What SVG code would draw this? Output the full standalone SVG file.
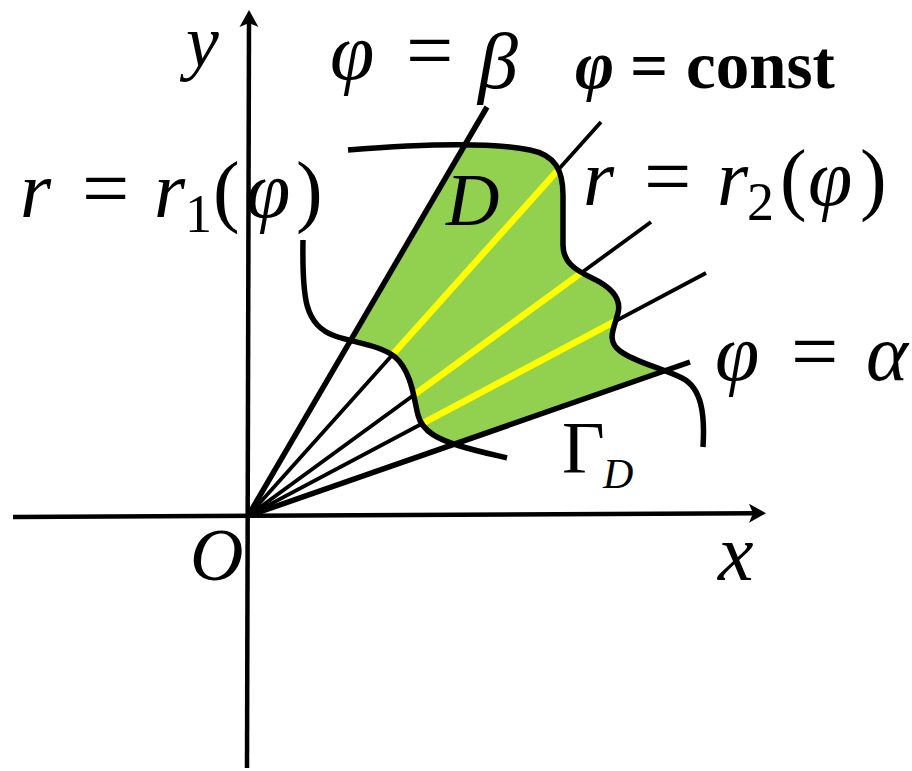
<svg xmlns="http://www.w3.org/2000/svg" width="912" height="771" viewBox="0 0 912 771">
<style>
.t{font-family:"Liberation Serif","Times New Roman",serif;fill:#000}
.i{font-style:italic}
.b{font-weight:bold}
.ax{stroke:#000;stroke-width:4.5;fill:none}
.thin{stroke:#000;stroke-width:3.8;fill:none}
.thick{stroke:#000;stroke-width:5.5;fill:none;stroke-linecap:butt}
.yel{stroke:#FFFF00;stroke-width:6.5;fill:none}
.crv{stroke:#000;stroke-width:5.5;fill:none;stroke-linecap:butt}
</style>
<defs>
<marker id="arr" viewBox="0 0 20 20" refX="10" refY="10" markerWidth="20" markerHeight="20" markerUnits="userSpaceOnUse" orient="auto">
<path d="M20,10 L3,0.5 L7,10 L3,19.5 Z" fill="#000"/>
</marker>
<clipPath id="wedge"><polygon points="248,516 726,-302 1200,-302 1200,184.3"/></clipPath>
<path id="shape" d="M348,150 C420,144 490,142 530,150 C555,155 563,170 563,195 L563,245 C563,262 575,270 592,278 C609,286 622,297 618,313 C614,329 606,340 620,351 C634,362 662,368 682,378 C702,388 705,415 703,447 L507,458 C495,455 480,452 460,446 C440,440 422,432 418,415 C414,400 412,372 395,357 C380,345 355,343 335,336 C305,325 302,300 303,240 Z"/>
<clipPath id="shapeClip"><use href="#shape"/></clipPath>
</defs>
<rect width="912" height="771" fill="#fff"/>

<g id="region-D" clip-path="url(#wedge)">
<use href="#shape" fill="#92D050"/>
</g>

<g id="connectors">
<g id="rays-const">
<line class="thin" x1="248" y1="516" x2="601" y2="122"/>
<line class="thin" x1="248" y1="516" x2="651" y2="222"/>
<line class="thin" x1="248" y1="516" x2="706" y2="273"/>
</g>
<g id="yellow-segments" clip-path="url(#shapeClip)">
<g clip-path="url(#wedge)">
<line class="yel" x1="248" y1="516" x2="601" y2="122"/>
<line class="yel" x1="248" y1="516" x2="651" y2="222"/>
<line class="yel" x1="248" y1="516" x2="706" y2="273"/>
</g>
</g>
<line id="ray-beta" class="thick" x1="248" y1="516" x2="487" y2="107"/>
<line id="ray-alpha" class="thick" x1="248" y1="516" x2="690" y2="362"/>
<path id="curve-r2" class="crv" d="M348,150 C420,144 490,142 530,150 C555,155 563,170 563,195 L563,245 C563,262 575,270 592,278 C609,286 622,297 618,313 C614,329 606,340 620,351 C634,362 662,368 682,378 C702,388 705,415 703,447"/>
<path id="curve-r1" class="crv" d="M303,240 C302,300 305,325 335,336 C355,343 380,345 395,357 C412,372 414,400 418,415 C422,432 440,440 460,446 C480,452 495,455 507,458"/>
<line id="axis-y" class="ax" x1="247" y1="768" x2="249" y2="20" marker-end="url(#arr)"/>
<line id="axis-x" class="ax" x1="13" y1="517" x2="756" y2="513.2" marker-end="url(#arr)"/>
</g>

<g id="label-y"><text class="t i" x="186" y="66" font-size="74">y</text></g>
<g id="label-beta"><text class="t" y="79" font-size="80"><tspan class="i" x="330">φ</tspan><tspan x="406" font-size="84">=</tspan><tspan class="i" x="478" y="88">β</tspan></text></g>
<g id="label-const"><text class="t b" y="88" font-size="67"><tspan class="i" x="575">φ</tspan><tspan x="630">=</tspan><tspan x="686">const</tspan></text></g>
<g id="label-r1"><text class="t" y="217" font-size="80"><tspan class="i" x="20">r</tspan><tspan x="82" font-size="84">=</tspan><tspan class="i" x="154">r</tspan><tspan x="185" y="232" font-size="54">1</tspan><tspan x="213" y="217">(</tspan><tspan class="i" x="246">φ</tspan><tspan x="296">)</tspan></text></g>
<g id="label-r2"><text class="t" y="205" font-size="80"><tspan class="i" x="583">r</tspan><tspan x="644" font-size="84">=</tspan><tspan class="i" x="717">r</tspan><tspan x="747" y="220" font-size="54">2</tspan><tspan x="780" y="205">(</tspan><tspan class="i" x="808">φ</tspan><tspan x="860">)</tspan></text></g>
<g id="label-D"><text class="t i" x="446" y="225" font-size="74">D</text></g>
<g id="label-alpha"><text class="t" y="380" font-size="80"><tspan class="i" x="715">φ</tspan><tspan x="791" font-size="84">=</tspan><tspan class="i" x="866">α</tspan></text></g>
<g id="label-gamma"><text class="t" y="473" font-size="74"><tspan x="562">Γ</tspan><tspan class="i" x="603" y="488" font-size="42">D</tspan></text></g>
<g id="label-O"><text class="t i" x="190" y="580" font-size="74">O</text></g>
<g id="label-x"><text class="t i" x="718" y="580" font-size="80">x</text></g>
</svg>
